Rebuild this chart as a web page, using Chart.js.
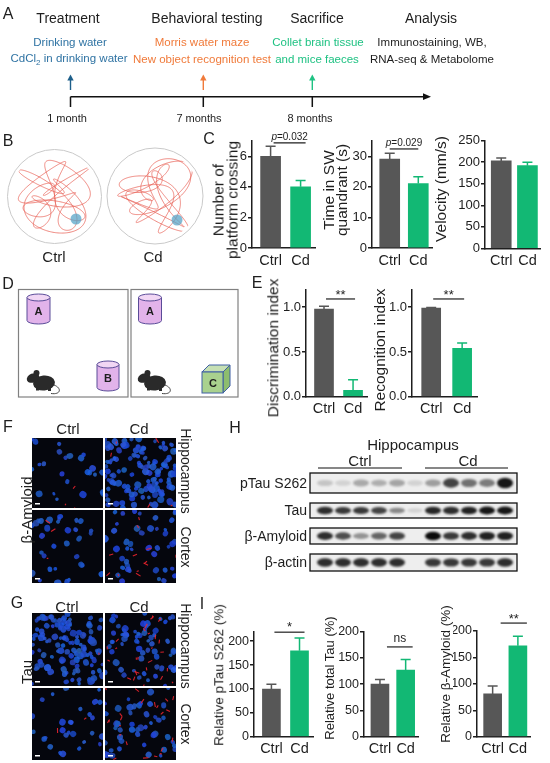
<!DOCTYPE html>
<html>
<head>
<meta charset="utf-8">
<script src="https://cdn.jsdelivr.net/npm/chart.js@4.4.0/dist/chart.umd.min.js"></script>
<style>
  body { margin: 0; width: 550px; height: 763px; position: relative; overflow: hidden; background: #fff;
         font-family: "Liberation Sans", Arial, Helvetica, sans-serif; color: #1e1e1e; }
  .t { position: absolute; white-space: nowrap; line-height: 1; text-align: center; }
  canvas { position: absolute; }
</style>
</head>
<body>
<canvas id="art" width="550" height="763" style="left:0;top:0"></canvas>
<script>
// ---- data ----
const groups = ['Ctrl', 'Cd'];

const crossingMean = [6.0, 4.0];
const crossingSem = [0.65, 0.42];
const swTimeMean = [29.1, 21.1];
const swTimeSem = [1.9, 2.2];
const velocityMean = [203, 192];
const velocitySem = [7, 8];

const discrimMean = [0.98, 0.07];
const discrimSem = [0.03, 0.12];
const recogMean = [0.99, 0.54];
const recogSem = [0.006, 0.06];

const pTauMean = [100, 180];
const pTauSem = [10, 27];
const totalTauMean = [100, 127];
const totalTauSem = [9, 20];
const amyloidMean = [81, 172];
const amyloidSem = [15, 18];

const crossingTicks = [0, 2, 4, 6];
const swTimeTicks = [0, 10, 20, 30];
const velocityTicks = [0, 50, 100, 150, 200, 250];
const indexTicks = [0, 0.5, 1.0];
const percentTicks = [0, 50, 100, 150, 200];

// western blot band strength per lane (5 Ctrl, empty lane, 5 Cd)
const pTauBands = [0.18, 0.12, 0.3, 0.28, 0.32, 0.12, 0.35, 0.75, 0.55, 0.5, 0.95];
const tauBands = [0.85, 0.8, 0.8, 0.75, 0.45, 0.12, 0.88, 0.85, 0.9, 0.95, 0.95];
const amyloidBands = [0.85, 0.7, 0.4, 0.6, 0.75, 0.0, 1.0, 0.8, 0.85, 0.9, 0.9];
const actinBands = [0.85, 0.85, 0.85, 0.85, 0.85, 0.0, 0.8, 0.8, 0.8, 0.8, 0.85];

// ---- text helper ----
function label(html, x, y, size, opts) {
  opts = opts || {};
  const d = document.createElement('div');
  d.className = 't';
  d.innerHTML = html;
  d.style.left = x + 'px';
  d.style.top = y + 'px';
  d.style.fontSize = size + 'px';
  if (opts.lh) d.style.lineHeight = opts.lh + 'px';
  if (opts.color) d.style.color = opts.color;
  if (opts.bold) d.style.fontWeight = 'bold';
  const tx = opts.align === 'right' ? '-100%' : opts.align === 'left' ? '0' : '-50%';
  d.style.transform = 'translate(' + tx + ',-50%)' + (opts.rot ? ' rotate(' + opts.rot + 'deg)' : '');
  document.body.appendChild(d);
}

// ---- illustration canvas ----
const art = document.getElementById('art');
const ctx = art.getContext('2d');

// A: timeline
const blue = '#2f73a3', orange = '#f07a3a', green = '#1fc283';
ctx.strokeStyle = '#111';
ctx.fillStyle = '#111';
ctx.lineWidth = 1.5;
ctx.beginPath();
ctx.moveTo(70.5, 96.7); ctx.lineTo(425, 96.7);
[70.5, 203.3, 312.3].forEach(x => { ctx.moveTo(x, 96.7); ctx.lineTo(x, 107); });
ctx.stroke();
ctx.beginPath();
ctx.moveTo(431, 96.7); ctx.lineTo(423, 93.3); ctx.lineTo(423, 100.1); ctx.closePath(); ctx.fill();

[[70.5, '#1d5f8a'], [203.3, orange], [312.3, green]].forEach(([x, c]) => {
  ctx.strokeStyle = c; ctx.fillStyle = c; ctx.lineWidth = 1.4;
  ctx.beginPath(); ctx.moveTo(x, 90); ctx.lineTo(x, 79); ctx.stroke();
  ctx.beginPath(); ctx.moveTo(x, 74.5); ctx.lineTo(x - 3.2, 80.5); ctx.lineTo(x + 3.2, 80.5); ctx.closePath(); ctx.fill();
});

// B: water maze
function swim(cx, cy, R, k) {
  ctx.save();
  ctx.beginPath(); ctx.arc(cx, cy, R * 0.93, 0, Math.PI * 2); ctx.clip();
  ctx.strokeStyle = 'rgba(232,100,90,0.85)';
  ctx.lineWidth = 0.9;
  ctx.beginPath();
  for (let i = 0; i <= 1400; i++) {
    const a = i / 1400 * Math.PI * 2;
    const px = cx + R * 0.78 * (0.55 * Math.sin(5 * a + k) + 0.45 * Math.sin(11 * a + 2 * k));
    const py = cy + R * 0.78 * (0.55 * Math.cos(4 * a + 0.7 * k) + 0.45 * Math.cos(9 * a + k));
    if (i === 0) ctx.moveTo(px, py); else ctx.lineTo(px, py);
  }
  ctx.stroke();
  ctx.restore();
}
[[54.5, 196.5, 47, 0.4, 76, 219], [155, 196, 48, 1.9, 177, 220]].forEach(([cx, cy, R, k, px, py]) => {
  ctx.strokeStyle = '#c9c9c9'; ctx.lineWidth = 1;
  ctx.beginPath(); ctx.arc(cx, cy, R, 0, Math.PI * 2); ctx.stroke();
  swim(cx, cy, R, k);
  ctx.fillStyle = 'rgba(90,165,200,0.75)';
  ctx.beginPath(); ctx.arc(px, py, 5.5, 0, Math.PI * 2); ctx.fill();
});

// D: object recognition boxes
ctx.strokeStyle = '#808080'; ctx.lineWidth = 1.2;
ctx.strokeRect(18.5, 289.5, 109.5, 107.5);
ctx.strokeRect(131, 289.5, 107, 107.5);

function cylinder(cx, top, w, h) {
  const rx = w / 2, ry = 3.5;
  ctx.fillStyle = '#e2b3ea';
  ctx.fillRect(cx - rx, top + ry, w, h - 2 * ry);
  ctx.beginPath(); ctx.ellipse(cx, top + h - ry, rx, ry, 0, 0, Math.PI * 2); ctx.fill();
  ctx.strokeStyle = '#5a4c98'; ctx.lineWidth = 1;
  ctx.beginPath();
  ctx.moveTo(cx - rx, top + ry); ctx.lineTo(cx - rx, top + h - ry);
  ctx.ellipse(cx, top + h - ry, rx, ry, 0, Math.PI, 0, true);
  ctx.lineTo(cx + rx, top + ry);
  ctx.stroke();
  ctx.fillStyle = '#f1d6f4';
  ctx.beginPath(); ctx.ellipse(cx, top + ry, rx, ry, 0, 0, Math.PI * 2); ctx.fill(); ctx.stroke();
}
cylinder(38.5, 294, 23, 30);
cylinder(150, 294, 23, 30);
cylinder(108, 361, 22, 30);

function cube(x, y, s, d) {
  ctx.strokeStyle = '#3e5fa4'; ctx.lineWidth = 1;
  ctx.fillStyle = '#c6e0b4';
  ctx.beginPath(); ctx.moveTo(x, y + d); ctx.lineTo(x + d, y); ctx.lineTo(x + s + d, y); ctx.lineTo(x + s, y + d); ctx.closePath(); ctx.fill(); ctx.stroke();
  ctx.fillStyle = '#8dbd6e';
  ctx.beginPath(); ctx.moveTo(x + s, y + d); ctx.lineTo(x + s + d, y); ctx.lineTo(x + s + d, y + s); ctx.lineTo(x + s, y + s + d); ctx.closePath(); ctx.fill(); ctx.stroke();
  ctx.fillStyle = '#a9d18e';
  ctx.fillRect(x, y + d, s, s); ctx.strokeRect(x, y + d, s, s);
}
cube(202, 365, 21, 7);

function mouse(x, y) {
  ctx.fillStyle = '#2a2a2a';
  ctx.beginPath(); ctx.ellipse(x + 17, y + 15, 11, 7.5, -0.1, 0, Math.PI * 2); ctx.fill();
  ctx.beginPath(); ctx.ellipse(x + 6, y + 10, 6.5, 4.5, -0.4, 0, Math.PI * 2); ctx.fill();
  ctx.beginPath(); ctx.arc(x + 9.5, y + 5, 3, 0, Math.PI * 2); ctx.fill();
  ctx.fillRect(x + 9, y + 19, 3, 3.5); ctx.fillRect(x + 21, y + 20, 3, 3);
  ctx.strokeStyle = '#444'; ctx.lineWidth = 1;
  ctx.beginPath(); ctx.moveTo(x + 27, y + 17); ctx.bezierCurveTo(x + 35, y + 20, x + 34, y + 27, x + 24, y + 25.5); ctx.stroke();
}
mouse(27, 368);
mouse(138, 368);

// F / G: fluorescence micrographs
function rng(seed) {
  let s = seed;
  return () => (s = (s * 16807) % 2147483647) / 2147483647;
}
function micro(x, y, w, h, nuclei, reds, seed) {
  const r = rng(seed);
  ctx.save();
  ctx.fillStyle = '#05060d';
  ctx.fillRect(x, y, w, h);
  ctx.beginPath(); ctx.rect(x, y, w, h); ctx.clip();
  for (let i = 0; i < nuclei; i++) {
    const cx = x + r() * w, cy = y + r() * h, rad = 1.8 + r() * 1.7;
    ctx.fillStyle = 'rgba(' + Math.round(25 + r() * 20) + ',' + Math.round(65 + r() * 35) + ',' + Math.round(185 + r() * 45) + ',0.85)';
    ctx.beginPath(); ctx.ellipse(cx, cy, rad, rad * (0.8 + r() * 0.3), r() * 3, 0, Math.PI * 2); ctx.fill();
  }
  ctx.strokeStyle = 'rgba(235,35,45,0.9)';
  ctx.lineWidth = 1.1;
  for (let i = 0; i < reds; i++) {
    const cx = x + r() * w, cy = y + r() * h, a = r() * 6.28, l = 1.5 + r() * 4;
    ctx.beginPath(); ctx.moveTo(cx, cy); ctx.lineTo(cx + Math.cos(a) * l, cy + Math.sin(a) * l); ctx.stroke();
  }
  ctx.fillStyle = '#fff';
  ctx.fillRect(x + 3, y + h - 5, 5, 1.5);
  ctx.restore();
}
micro(32, 438, 71, 70, 24, 3, 11);
micro(105, 438, 71, 70, 130, 5, 23);
micro(32, 510, 71, 73, 32, 3, 37);
micro(105, 510, 71, 73, 42, 12, 41);
micro(32, 613, 71, 73, 120, 1, 53);
micro(105, 613, 71, 73, 62, 26, 67);
micro(32, 688, 71, 72, 28, 2, 79);
micro(105, 688, 71, 72, 46, 22, 83);

// H: western blots
function blot(y0, y1, bands) {
  const h = y1 - y0, mid = (y0 + y1) / 2;
  ctx.save();
  ctx.fillStyle = '#eeeeee';
  ctx.fillRect(310, y0, 207, h);
  ctx.filter = 'blur(1.3px)';
  bands.forEach((a, i) => {
    if (a <= 0) return;
    ctx.fillStyle = 'rgba(10,10,10,' + a + ')';
    ctx.beginPath();
    ctx.ellipse(325 + 18 * i, mid, 8, h * 0.18 * (0.7 + a * 0.8), 0, 0, Math.PI * 2);
    ctx.fill();
  });
  ctx.restore();
  ctx.strokeStyle = '#111'; ctx.lineWidth = 1.3;
  ctx.strokeRect(310, y0, 207, h);
}
blot(473, 493, pTauBands);
blot(503, 518, tauBands);
blot(528, 544, amyloidBands);
blot(554, 571, actinBands);
ctx.strokeStyle = '#111'; ctx.lineWidth = 1.2;
ctx.beginPath();
ctx.moveTo(318, 468); ctx.lineTo(402, 468);
ctx.moveTo(425, 468); ctx.lineTo(508, 468);
ctx.stroke();

// ---- texts ----
const ink = '#1e1e1e';
label('A', 8, 14, 16);
label('Treatment', 68, 18, 14);
label('Behavioral testing', 207, 18, 14);
label('Sacrifice', 317, 18, 14);
label('Analysis', 431, 18, 14);
label('Drinking water', 70, 43, 11.5, { color: blue });
label('CdCl<sub style="font-size:8px">2</sub> in drinking water', 69, 60, 11.5, { color: blue });
label('Morris water maze', 202, 43, 11.5, { color: orange });
label('New object recognition test', 202, 60, 11.5, { color: orange });
label('Collet brain tissue', 318, 43, 11.5, { color: green });
label('and mice faeces', 317, 60, 11.5, { color: green });
label('Immunostaining, WB,', 432, 43, 11.5);
label('RNA-seq &amp; Metabolome', 432, 60, 11.5);
label('1 month', 67, 118, 11);
label('7 months', 199, 118, 11);
label('8 months', 310, 118, 11);

label('B', 8, 141, 16);
label('Ctrl', 54, 256, 15);
label('Cd', 153, 256, 15);
label('C', 209, 139, 16);
label('D', 8, 284, 16);
label('E', 257, 283, 16);
label('A', 38.5, 311, 11, { bold: true });
label('A', 150, 311, 11, { bold: true });
label('B', 108, 378, 11, { bold: true });
label('C', 213, 383, 11, { bold: true });

label('F', 8, 427, 16);
label('Ctrl', 68, 428, 15);
label('Cd', 139, 428, 15);
label('Hippocampus', 186, 471, 14, { rot: 90 });
label('Cortex', 186, 547, 14, { rot: 90 });
label('β-Amyloid', 26, 510, 15, { rot: -90 });
label('G', 17, 603, 16);
label('Ctrl', 67, 606, 15);
label('Cd', 139, 606, 15);
label('Hippocampus', 186, 646, 14, { rot: 90 });
label('Cortex', 186, 724, 14, { rot: 90 });
label('Tau', 26, 672, 15, { rot: -90 });

label('H', 235, 428, 16);
label('Hippocampus', 413, 444, 15);
label('Ctrl', 360, 460, 15);
label('Cd', 468, 460, 15);
label('pTau S262', 307, 483, 14, { align: 'right' });
label('Tau', 307, 510, 14, { align: 'right' });
label('β-Amyloid', 307, 536, 14, { align: 'right' });
label('β-actin', 307, 562, 14, { align: 'right' });
label('I', 202, 604, 16);

// y-axis titles of the bar charts
label('Number of<br>platform crossing', 225, 200, 15.5, { rot: -90, lh: 13.5 });
label('Time in SW<br>quandrant (s)', 334.5, 190, 15.5, { rot: -90, lh: 13 });
label('Velocity (mm/s)', 441, 189, 15.5, { rot: -90 });
label('Discrimination index', 273, 348, 15.5, { rot: -90 });
label('Recognition index', 380, 350, 15.5, { rot: -90 });
label('Relative pTau S262 (%)', 219, 675, 13.5, { rot: -90 });
label('Relative total Tau (%)', 329, 678, 13, { rot: -90 });
label('Relative β-Amyloid (%)', 446, 674, 13.5, { rot: -90 });

// ---- bar charts ----
Chart.defaults.font.family = '"Liberation Sans", Arial, Helvetica, sans-serif';
Chart.defaults.color = ink;
const barColors = ['#575757', '#12b874'];
const X_MIN = -0.62, X_MAX = 1.48;

const errorBars = {
  id: 'errorBars',
  afterDatasetsDraw(chart) {
    const c = chart.ctx, ys = chart.scales.y, ds = chart.data.datasets[0];
    chart.getDatasetMeta(0).data.forEach((bar, i) => {
      const yTop = ys.getPixelForValue(ds.data[i].y + ds.sem[i]);
      c.save();
      c.strokeStyle = barColors[i];
      c.lineWidth = 1.5;
      c.beginPath();
      c.moveTo(bar.x, bar.y); c.lineTo(bar.x, yTop);
      c.moveTo(bar.x - 5, yTop); c.lineTo(bar.x + 5, yTop);
      c.stroke();
      c.restore();
    });
  }
};

const sigBar = {
  id: 'sigBar',
  afterDraw(chart, args, o) {
    if (!o || !o.text) return;
    const c = chart.ctx, xs = chart.scales.x, ys = chart.scales.y;
    const x0 = xs.getPixelForValue(0) + (o.dx0 || 0), x1 = xs.getPixelForValue(1) + (o.dx1 || 0);
    const y = ys.getPixelForValue(o.level);
    c.save();
    c.strokeStyle = ink; c.lineWidth = 1.2;
    c.beginPath(); c.moveTo(x0, y); c.lineTo(x1, y); c.stroke();
    c.fillStyle = ink;
    const xm = (x0 + x1) / 2;
    const fam = Chart.defaults.font.family;
    if (o.text.startsWith('p=')) {
      c.font = 'italic 10px ' + fam;
      const wp = c.measureText('p').width;
      c.font = '10px ' + fam;
      const rest = o.text.slice(1), wr = c.measureText(rest).width;
      const xs0 = xm - (wp + wr) / 2;
      c.textBaseline = 'alphabetic';
      c.font = 'italic 10px ' + fam;
      c.fillText('p', xs0, y - 3);
      c.font = '10px ' + fam;
      c.fillText(rest, xs0 + wp, y - 3);
    } else {
      c.font = o.size + 'px ' + fam;
      c.textAlign = 'center';
      c.textBaseline = 'middle';
      c.fillText(o.text, xm, y - o.gap);
    }
    c.restore();
  }
};

function barPanel(box, means, sems, s) {
  const cv = document.createElement('canvas');
  cv.width = box.width; cv.height = box.height;
  cv.style.left = box.left + 'px'; cv.style.top = box.top + 'px';
  document.body.appendChild(cv);
  return new Chart(cv.getContext('2d'), {
    type: 'bar',
    data: {
      datasets: [{
        data: means.map((v, i) => ({ x: i, y: v })),
        sem: sems,
        backgroundColor: barColors,
        borderWidth: 0,
        barThickness: s.barW
      }]
    },
    options: {
      responsive: false,
      animation: false,
      layout: { padding: { left: 0, top: s.top - box.top, right: box.left + box.width - s.right, bottom: 0 } },
      plugins: { legend: { display: false }, tooltip: { enabled: false }, sigBar: s.sig },
      scales: {
        x: {
          type: 'linear', min: X_MIN, max: X_MAX, bounds: 'data', offset: false,
          afterBuildTicks: sc => {
            sc.ticks = groups.map((g, i) => ({ value: i }));
            sc.min = X_MIN; sc.max = X_MAX;
          },
          afterFit: sc => { sc.height = box.top + box.height - s.bottom; },
          grid: { display: false, drawTicks: false, tickLength: 0, offset: false },
          border: { color: ink, width: 1.5 },
          ticks: { callback: v => groups[v], font: { size: 14.5 }, color: ink, padding: 4, autoSkip: false, maxRotation: 0 }
        },
        y: {
          min: 0, max: s.max, bounds: 'data',
          afterBuildTicks: sc => {
            sc.ticks = s.ticks.map(v => ({ value: v }));
            sc.min = 0; sc.max = s.max;
          },
          afterFit: sc => { sc.width = s.axis - box.left; },
          grid: { drawOnChartArea: false, drawTicks: true, tickLength: 4, color: ink, lineWidth: 1.5 },
          border: { color: ink, width: 1.5 },
          ticks: { font: { size: s.tickSize || 13 }, color: ink, padding: 1, callback: v => s.fmt ? s.fmt(v) : v },
          title: { display: false }
        }
      }
    },
    plugins: [errorBars, sigBar]
  });
}

const oneDec = v => v.toFixed(1);

// C
barPanel({ left: 226, top: 125, width: 96, height: 151 }, crossingMean, crossingSem,
  { axis: 252, top: 141, bottom: 248, right: 315, max: 7, ticks: crossingTicks, barW: 20,
    sig: { text: 'p=0.032', level: 6.88, dx0: 3, dx1: 5 } });
barPanel({ left: 345, top: 125, width: 93, height: 151 }, swTimeMean, swTimeSem,
  { axis: 372, top: 141, bottom: 248, right: 432, max: 35, ticks: swTimeTicks, barW: 20,
    sig: { text: 'p=0.029', level: 32.4, dx0: 0, dx1: 0 } });
barPanel({ left: 448, top: 125, width: 100, height: 151 }, velocityMean, velocitySem,
  { axis: 485, top: 140.7, bottom: 248.3, right: 540, max: 250, ticks: velocityTicks, barW: 20, sig: {} });

// E
barPanel({ left: 280, top: 277, width: 93, height: 147 }, discrimMean, discrimSem,
  { axis: 306, top: 289.3, bottom: 396.7, right: 367, max: 1.2, ticks: indexTicks, barW: 19, fmt: oneDec,
    sig: { text: '**', level: 1.092, size: 13, gap: 4, dx0: 2, dx1: 2 } });
barPanel({ left: 387, top: 277, width: 96, height: 147 }, recogMean, recogSem,
  { axis: 412, top: 289.3, bottom: 396.7, right: 477, max: 1.2, ticks: indexTicks, barW: 19, fmt: oneDec,
    sig: { text: '**', level: 1.092, size: 13, gap: 4, dx0: 2, dx1: 2 } });

// I
barPanel({ left: 226, top: 606, width: 93, height: 157 }, pTauMean, pTauSem,
  { axis: 254, top: 631.7, bottom: 736.7, right: 313, max: 220, ticks: percentTicks, barW: 18, tickSize: 12.5,
    sig: { text: '*', level: 219, size: 13, gap: 5, dx0: 3, dx1: 5 } });
barPanel({ left: 336, top: 606, width: 88, height: 157 }, totalTauMean, totalTauSem,
  { axis: 364, top: 631.7, bottom: 736.7, right: 418, max: 200, ticks: percentTicks, barW: 18, tickSize: 12.5,
    sig: { text: 'ns', level: 171, size: 12, gap: 8, dx0: 7, dx1: 7 } });
barPanel({ left: 453, top: 606, width: 83, height: 157 }, amyloidMean, amyloidSem,
  { axis: 477, top: 631, bottom: 736.7, right: 530, max: 200, ticks: percentTicks, barW: 18, tickSize: 12.5,
    sig: { text: '**', level: 215, size: 13, gap: 4, dx0: 8, dx1: 9 } });
</script>
</body>
</html>
